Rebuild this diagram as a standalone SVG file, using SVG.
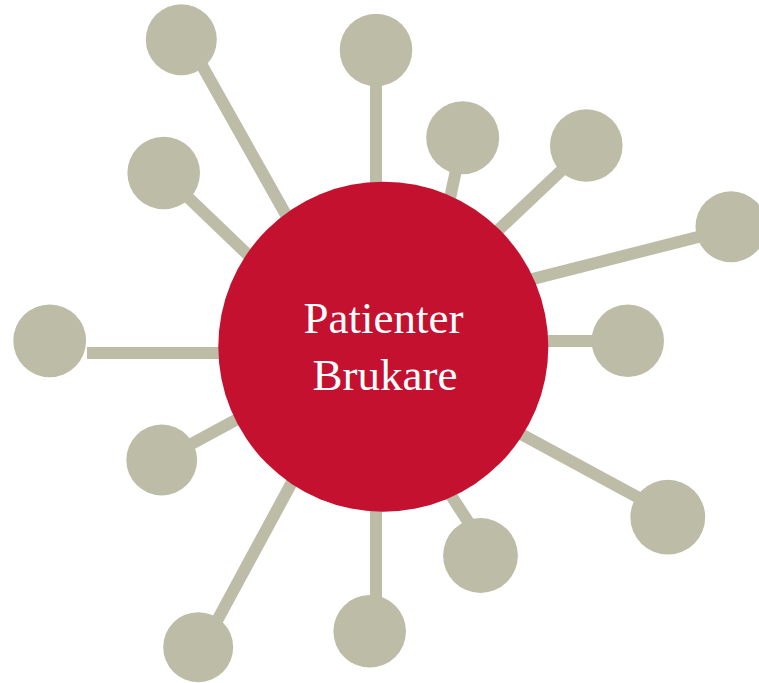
<svg xmlns="http://www.w3.org/2000/svg" width="759" height="683" viewBox="0 0 759 683">
<style>
.link{stroke:#BDBCA7;stroke-width:12;fill:none}
.sat{fill:#BDBCA7}
.hub{fill:#C3112F}
.lbl{font-family:"Liberation Serif","Times New Roman",serif;font-size:45px;fill:#FFFFFF;text-anchor:middle}
</style>
<rect width="759" height="683" fill="#FFFFFF"/>
<g id="connectors">
<line class="link" x1="187.5" y1="39.7" x2="303" y2="245"/>
<line class="link" x1="376" y1="50" x2="376" y2="250"/>
<line class="link" x1="463" y1="137.7" x2="441" y2="240"/>
<line class="link" x1="586.3" y1="147" x2="480" y2="247.4"/>
<line class="link" x1="731" y1="228.6" x2="500" y2="287.3"/>
<line class="link" x1="163.7" y1="174" x2="270" y2="276"/>
<line class="link" x1="87" y1="353" x2="260" y2="353"/>
<line class="link" x1="628" y1="341" x2="500" y2="341"/>
<line class="link" x1="161.7" y1="460" x2="250" y2="412.3"/>
<line class="link" x1="500" y1="422.7" x2="667.8" y2="513.6"/>
<line class="link" x1="428" y1="460" x2="480" y2="540"/>
<line class="link" x1="376" y1="440" x2="376" y2="631"/>
<line class="link" x1="202.8" y1="647" x2="314.8" y2="440"/>
</g>
<g id="node-1"><circle class="sat" cx="181.3" cy="39.7" r="35.5"/></g>
<g id="node-2"><circle class="sat" cx="376" cy="50" r="36.3"/></g>
<g id="node-3"><circle class="sat" cx="462.7" cy="137.7" r="36.5"/></g>
<g id="node-4"><circle class="sat" cx="586.3" cy="145.5" r="36.3"/></g>
<g id="node-5"><circle class="sat" cx="731" cy="226.7" r="35.5"/></g>
<g id="node-6"><circle class="sat" cx="163.7" cy="173" r="36.3"/></g>
<g id="node-7"><circle class="sat" cx="49.7" cy="340.8" r="36.4"/></g>
<g id="node-8"><circle class="sat" cx="627.8" cy="340.8" r="36.2"/></g>
<g id="node-9"><circle class="sat" cx="161.7" cy="460" r="35.4"/></g>
<g id="node-10"><circle class="sat" cx="667.8" cy="517.2" r="37.4"/></g>
<g id="node-11"><circle class="sat" cx="480.5" cy="555.5" r="37.4"/></g>
<g id="node-12"><circle class="sat" cx="369.7" cy="631.3" r="36.3"/></g>
<g id="node-13"><circle class="sat" cx="198.2" cy="647.2" r="35"/></g>
<g id="hub">
<circle class="hub" cx="383.3" cy="346.7" r="165"/>
<text class="lbl" x="383.5" y="333">Patienter</text>
<text class="lbl" x="385" y="390">Brukare</text>
</g>
</svg>
